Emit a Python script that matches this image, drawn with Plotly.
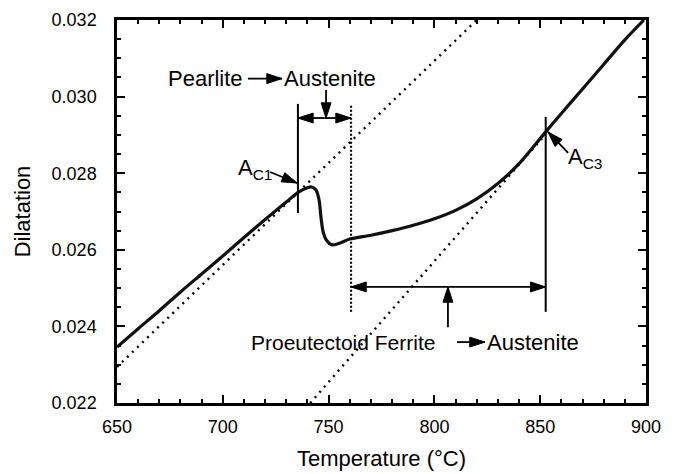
import plotly.graph_objects as go

# Measured dilatation curve on heating
temperature = [650, 660, 670, 680, 690, 700, 710, 720, 730, 736, 740, 742, 744,
               745.5, 746.5, 747.5, 749, 751.5, 755, 760, 770, 780, 790, 800,
               810, 820, 830, 840, 852, 860, 870, 880, 890, 899]
dilatation = [0.02346, 0.02394, 0.02441, 0.02490, 0.02537, 0.02584, 0.02632,
              0.02679, 0.02725, 0.02751, 0.02762, 0.02764, 0.02757, 0.02730,
              0.02680, 0.02645, 0.02625, 0.02613, 0.02617, 0.02628, 0.02638,
              0.02650, 0.02664, 0.02681, 0.02703, 0.02733, 0.02773, 0.02825,
              0.02904, 0.02956, 0.03020, 0.03084, 0.03148, 0.03200]

# Linear expansion of ferrite+pearlite and of austenite
ferrite_t = [650, 820]
ferrite_d = [0.02294, 0.03200]
austenite_t = [741.3, 852.6]
austenite_d = [0.02200, 0.02902]

# Transformation temperatures
AC1 = 735.5
PEARLITE_END = 760.6
AC3 = 852.6

x_ticks = [650, 700, 750, 800, 850, 900]
y_ticks = [0.022, 0.024, 0.026, 0.028, 0.030, 0.032]

FONT = "Liberation Sans, Arial, sans-serif"

fig = go.Figure()
fig.add_trace(go.Scatter(x=ferrite_t, y=ferrite_d, mode="lines",
                         line=dict(color="black", width=2.4, dash="2px,5px"),
                         hoverinfo="skip"))
fig.add_trace(go.Scatter(x=austenite_t, y=austenite_d, mode="lines",
                         line=dict(color="black", width=2.4, dash="2px,5px"),
                         hoverinfo="skip"))
fig.add_trace(go.Scatter(x=temperature, y=dilatation, mode="lines",
                         line=dict(color="#111", width=3.2, shape="spline", smoothing=0.8)))

shapes = [
    dict(type="line", xref="x", yref="y", x0=AC1, x1=AC1, y0=0.02696, y1=0.02981,
         line=dict(color="black", width=2)),
    dict(type="line", xref="x", yref="y", x0=PEARLITE_END, x1=PEARLITE_END,
         y0=0.02438, y1=0.02981, line=dict(color="black", width=2.2, dash="2px,2px")),
    dict(type="line", xref="x", yref="y", x0=AC3, x1=AC3, y0=0.02438, y1=0.02947,
         line=dict(color="black", width=2)),
]


def add_arrow(x0, y0, x1, y1, head=16):
    """Straight arrow from (x0, y0) with a filled head at (x1, y1)."""
    fig.add_trace(go.Scatter(
        x=[x0, x1], y=[y0, y1], mode="lines",
        line=dict(color="black", width=1.8), hoverinfo="skip"))
    fig.add_trace(go.Scatter(
        x=[x0, x1], y=[y0, y1], mode="markers", opacity=1,
        marker=dict(symbol="arrow", size=[0, head], angleref="previous",
                    color="#000000", opacity=1,
                    line=dict(width=1, color="#000000")),
        hoverinfo="skip"))


def add_double_arrow(x0, x1, y, head=16):
    mid = (x0 + x1) / 2
    add_arrow(mid, y, x0, y, head)
    add_arrow(mid, y, x1, y, head)


# Pearlite -> Austenite
add_arrow(711.9, 0.03047, 728.0, 0.03047)
add_arrow(748.8, 0.03017, 748.8, 0.02944)
add_double_arrow(AC1, PEARLITE_END, 0.02944)
# Proeutectoid ferrite -> Austenite
add_arrow(810.7, 0.02359, 823.9, 0.02359)
add_arrow(806.4, 0.02398, 806.4, 0.02503)
add_double_arrow(PEARLITE_END, AC3, 0.02503)
# Critical temperature pointers
add_arrow(722.3, 0.028031, 735.1, 0.027744)
add_arrow(863.2, 0.028528, 853.7, 0.029076)


def label(x, y, text, size=22, xanchor="center"):
    return dict(x=x, y=y, xref="x", yref="y", text=text, showarrow=False,
                xanchor=xanchor, yanchor="middle",
                font=dict(family=FONT, size=size, color="black"))


annotations = [
    label(691.8, 0.03047, "Pearlite"),
    label(728.0, 0.03047, "Austenite", xanchor="left"),
    label(757.0, 0.02359, "Proeutectoid Ferrite", size=21),
    label(823.9, 0.02359, "Austenite", xanchor="left"),
    label(706.3, 0.02812, "A<sub>C1</sub>", xanchor="left"),
    label(862.4, 0.02840, "A<sub>C3</sub>", xanchor="left"),
]

axis_common = dict(showline=True, linecolor="black", linewidth=2.5, mirror="allticks",
                   ticks="inside", ticklen=8, tickwidth=2, tickcolor="black",
                   showgrid=False, zeroline=False, automargin=False,
                   tickfont=dict(family=FONT, size=18, color="black"))

fig.update_layout(
    width=675, height=474,
    margin=dict(l=117, r=29, t=20, b=71),
    paper_bgcolor="white", plot_bgcolor="white",
    showlegend=False,
    shapes=shapes, annotations=annotations,
    xaxis=dict(range=[650, 900], tickvals=x_ticks, ticklabelstandoff=6,
               minor=dict(dtick=10, ticks="inside", ticklen=4, tickwidth=1.5, tickcolor="black"),
               title=dict(text="Temperature (°C)", standoff=15,
                          font=dict(family=FONT, size=22, color="black")),
               **axis_common),
    yaxis=dict(range=[0.022, 0.032], tickvals=y_ticks, tickformat=".3f", ticklabelstandoff=14,
               minor=dict(dtick=0.0005, ticks="inside", ticklen=4, tickwidth=1.5, tickcolor="black"),
               title=dict(text="Dilatation", standoff=15,
                          font=dict(family=FONT, size=22, color="black")),
               **axis_common),
)

fig.write_html("out.html")
